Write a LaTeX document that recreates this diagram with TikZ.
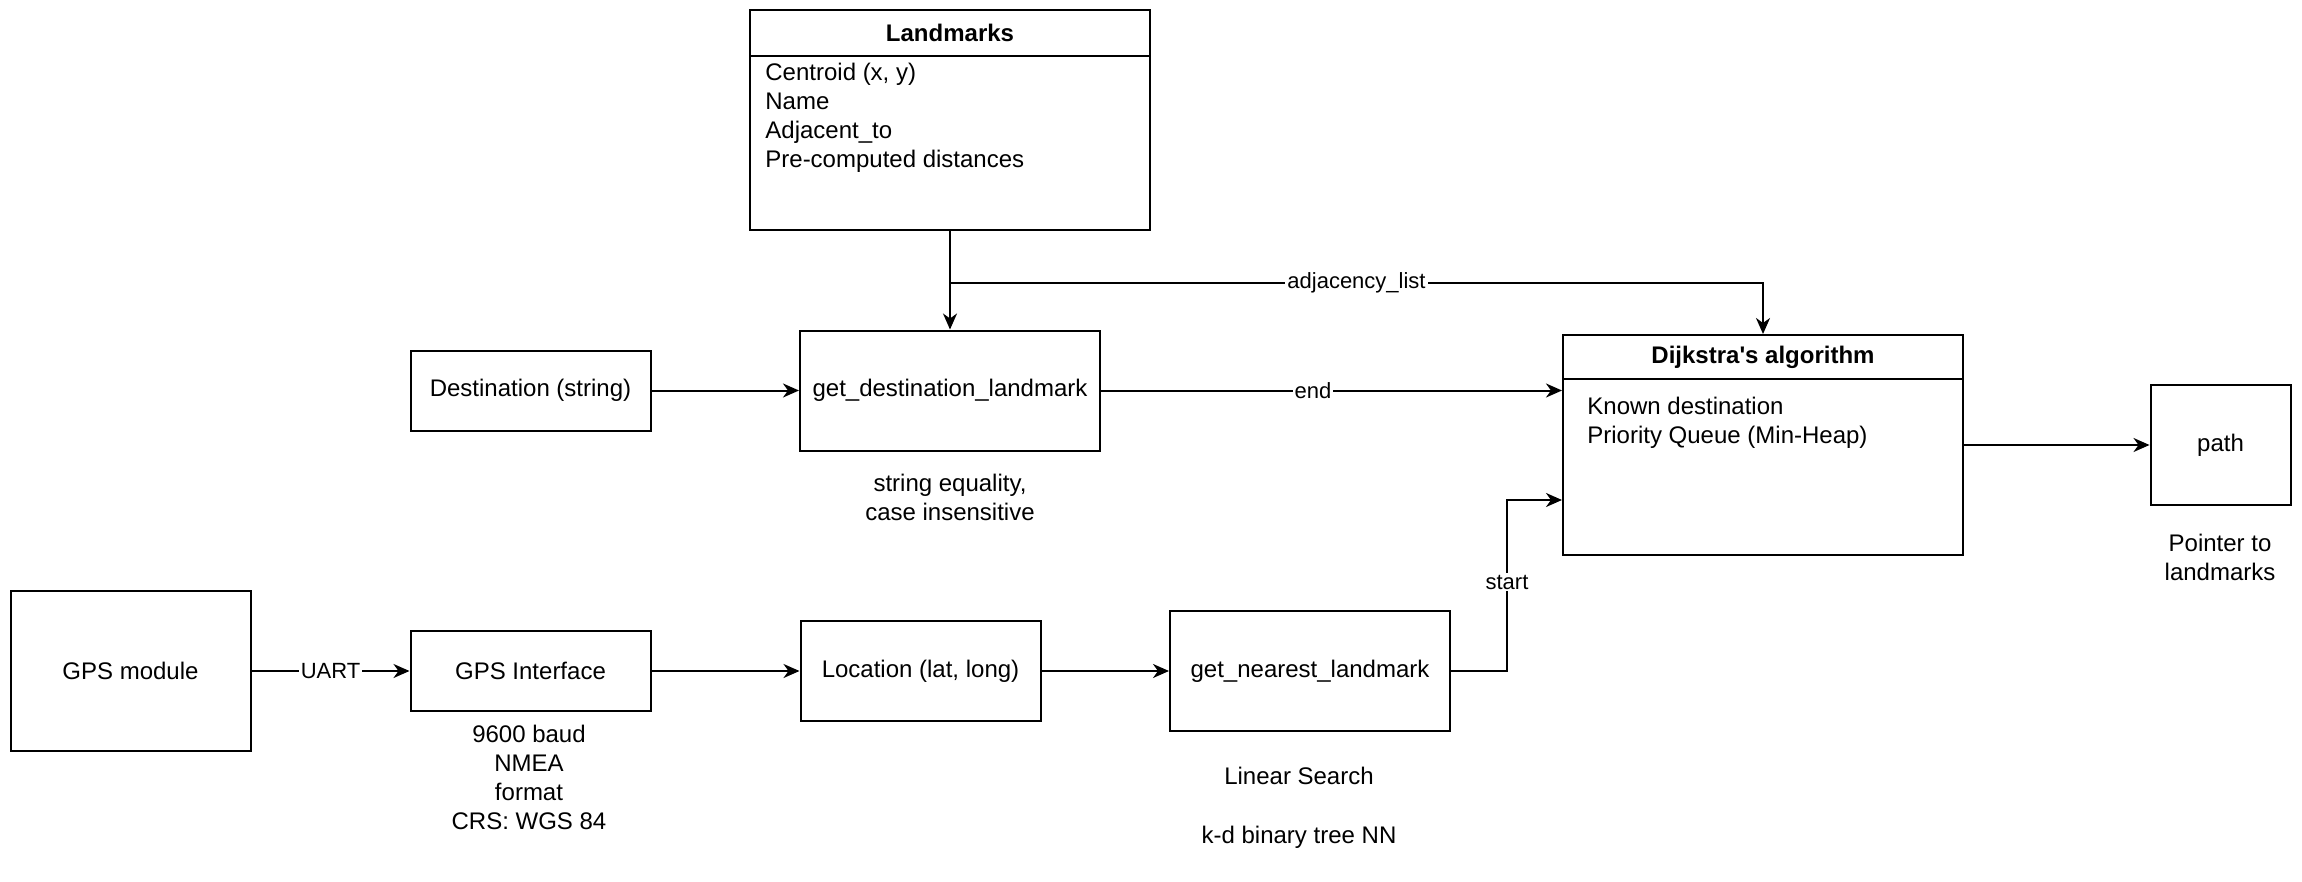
\documentclass[tikz,border=0pt]{standalone}
\usepackage{fontspec}
\setmainfont{Liberation Sans}
\usetikzlibrary{arrows.meta,positioning}

\begin{document}
\begin{tikzpicture}[x=0.5pt, y=-0.5pt,
    every node/.style={font=\fontsize{12}{14.5}\selectfont},
    box/.style={draw, line width=1pt, inner sep=3pt},
    note/.style={align=center, inner sep=0pt},
    lbl/.style={fill=white, inner sep=1pt, font=\fontsize{11}{13}\selectfont},
    arr/.style={line width=1pt, -{Stealth[length=8pt, width=7pt, inset=2.5pt]}}]
  \useasboundingbox (0,0) rectangle (2302,882);

  % data stores with a title bar
  \node[box, minimum width=200pt, minimum height=110pt] (lmk) at (950,120) {};
  \node[font=\bfseries\fontsize{12}{14.5}\selectfont] (lmktitle) at (950,33) {Landmarks};
  \draw[line width=1pt] ([yshift=-23.5pt]lmk.north west) -- ([yshift=-23.5pt]lmk.north east);
  \node[anchor=north west, align=left, inner sep=0pt] (lmkbody) at (765,63)
    {Centroid (x, y)\\Name\\Adjacent\_to\\Pre-computed distances};

  \node[box, minimum width=200pt, minimum height=110pt] (dijk) at (1763,445) {};
  \node[font=\bfseries\fontsize{12}{14.5}\selectfont] (dijktitle) at (1763,357)
    {Dijkstra\textquotesingle s algorithm};
  \draw[line width=1pt] ([yshift=-22.5pt]dijk.north west) -- ([yshift=-22.5pt]dijk.north east);
  \node[anchor=north west, align=left, inner sep=0pt] (dijkbody) at (1587,397)
    {Known destination\\Priority Queue (Min-Heap)};

  % processing steps
  \node[box, minimum width=120pt, minimum height=40pt] (dest) at (530.5,390.5) {Destination (string)};
  \node[box, minimum width=150pt, minimum height=60pt] (getdest) at (950,390.5) {get\_destination\_landmark};
  \node[box, minimum width=70pt, minimum height=60pt] (path) at (2220.5,445) {path};
  \node[box, minimum width=120pt, minimum height=80pt] (gps) at (130.5,671) {GPS module};
  \node[box, minimum width=120pt, minimum height=40pt] (gpsif) at (530.5,671) {GPS Interface};
  \node[box, minimum width=120pt, minimum height=50pt] (loc) at (920.5,671) {Location (lat, long)};
  \node[box, minimum width=140pt, minimum height=60pt] (near) at (1310,671) {get\_nearest\_landmark};

  % notes
  \node[note] (destnote) at (950,497) {string equality,\\case insensitive};
  \node[note] (gpsnote) at (529,777) {9600 baud\\NMEA\\ format\\CRS: WGS 84};
  \node[note] (nearnote) at (1299,808) {Linear Search\\[15pt]k-d binary tree NN};
  \node[note] (pathnote) at (2220,557) {Pointer to\\landmarks};

  % connectors
  \draw[arr] (lmk.south) -- (getdest.north);
  \draw[arr] (lmk.south) -- ++(0,52) -| node[lbl, pos=0.25] {adjacency\_list} (dijk.north);
  \draw[arr] (dest) -- (getdest);
  \draw[arr] (getdest.east) -- node[lbl, pos=0.46] {end} (getdest.east -| dijk.west);
  \draw[arr] (near.east) -- ++(56,0) |- node[lbl, pos=0.26] {start} ([yshift=-27.5pt]dijk.west);
  \draw[arr] (dijk) -- (path);
  \draw[arr] (gps) -- node[lbl] {UART} (gpsif);
  \draw[arr] (gpsif) -- (loc);
  \draw[arr] (loc) -- (near);
\end{tikzpicture}
\end{document}
